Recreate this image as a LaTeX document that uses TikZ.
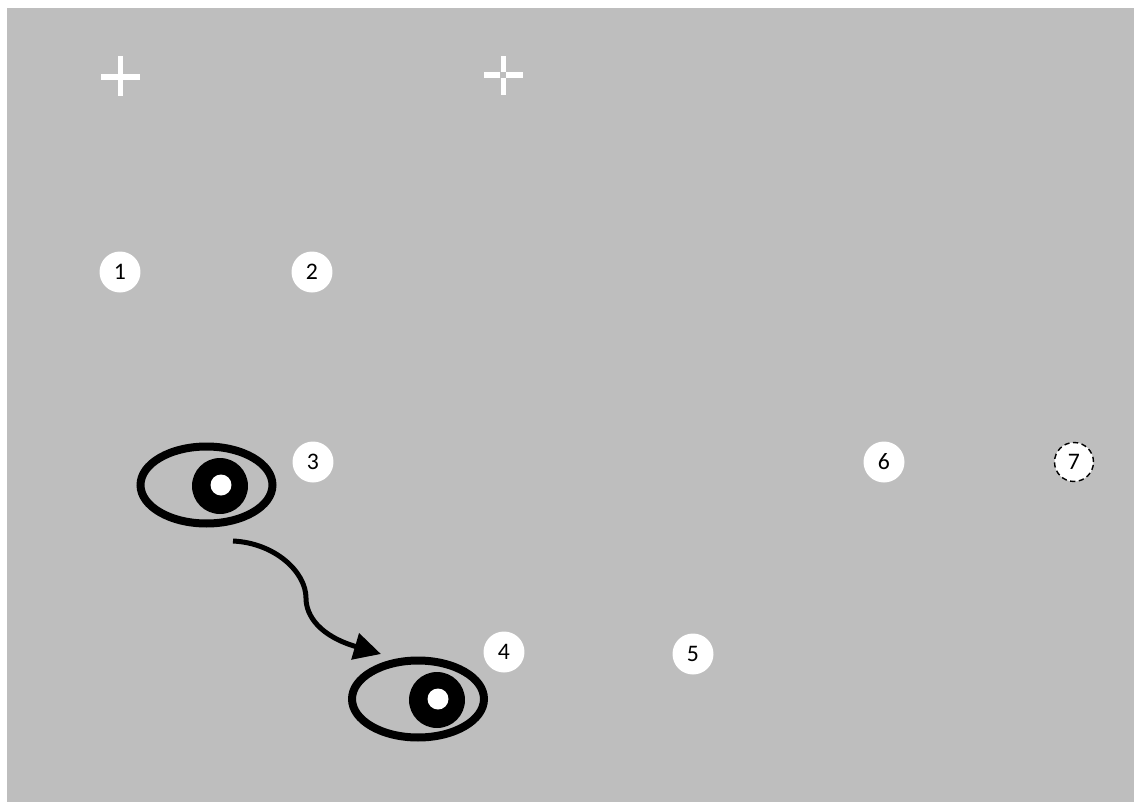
\documentclass[tikz,border=0pt]{standalone}
\usepackage{fontspec}
\setmainfont{Carlito}
\usetikzlibrary{arrows.meta,shapes.geometric}

\tikzset{
    dot/.style={circle, fill=white, inner sep=0pt, minimum size=.82cm, font=\fontsize{13.5}{15}\selectfont},
    eyelid/.style={ellipse, draw=black, line width=.16cm, inner sep=0pt, minimum width=2.64cm, minimum height=1.54cm},
    pupil/.style={circle, fill=black, inner sep=0pt, minimum size=1.12cm},
    glint/.style={circle, fill=white, inner sep=0pt, minimum size=.42cm},
    crossbar/.style={draw=white, line width=.11cm},
}

\begin{document}
\begin{tikzpicture}[x=.02cm, y=-.02cm]
    \useasboundingbox (0,0) rectangle (1134,802);
    \fill[white] (0,0) rectangle (1134,802);
    \fill[black!25.5] (7,8) rectangle (1134,802);

    % fixation crosses
    \draw[crossbar] (101,77) -- (140,77);
    \draw[crossbar] (120.5,56) -- (120.5,96);
    \draw[crossbar] (484,75) -- (500,75);
    \draw[crossbar] (506,75) -- (523,75);
    \draw[crossbar] (503.5,56) -- (503.5,72);
    \draw[crossbar] (503.5,78) -- (503.5,95);

    % numbered targets
    \node[dot] (one) at (120,272) {1};
    \node[dot] (two) at (312,272) {2};
    \node[dot] (three) at (313,462) {3};
    \node[dot] (four) at (504,652) {4};
    \node[dot] (five) at (693,654) {5};
    \node[dot] (six) at (884,462) {6};
    \node[dot, draw=black, densely dashed, line width=.8pt, minimum size=.78cm] (seven) at (1074,462) {7};

    % eyes
    \node[eyelid] (eyeA) at (206.5,485) {};
    \node[pupil] (pupilA) at (220,486) {};
    \node[glint] (glintA) at (221,485) {};
    \node[eyelid] (eyeB) at (418,699) {};
    \node[pupil] (pupilB) at (437,700) {};
    \node[glint] (glintB) at (438,699) {};

    % saccade
    \coordinate (from) at (233,541);
    \coordinate (bend) at (306,598);
    \coordinate (to) at (381,654);
    \draw[line width=.1cm, -{Triangle[length=.54cm,width=.53cm]}] (from)
        .. controls (275,543) and (306,572) .. (bend)
        .. controls (306,616) and (320,636) .. (to);
\end{tikzpicture}
\end{document}
